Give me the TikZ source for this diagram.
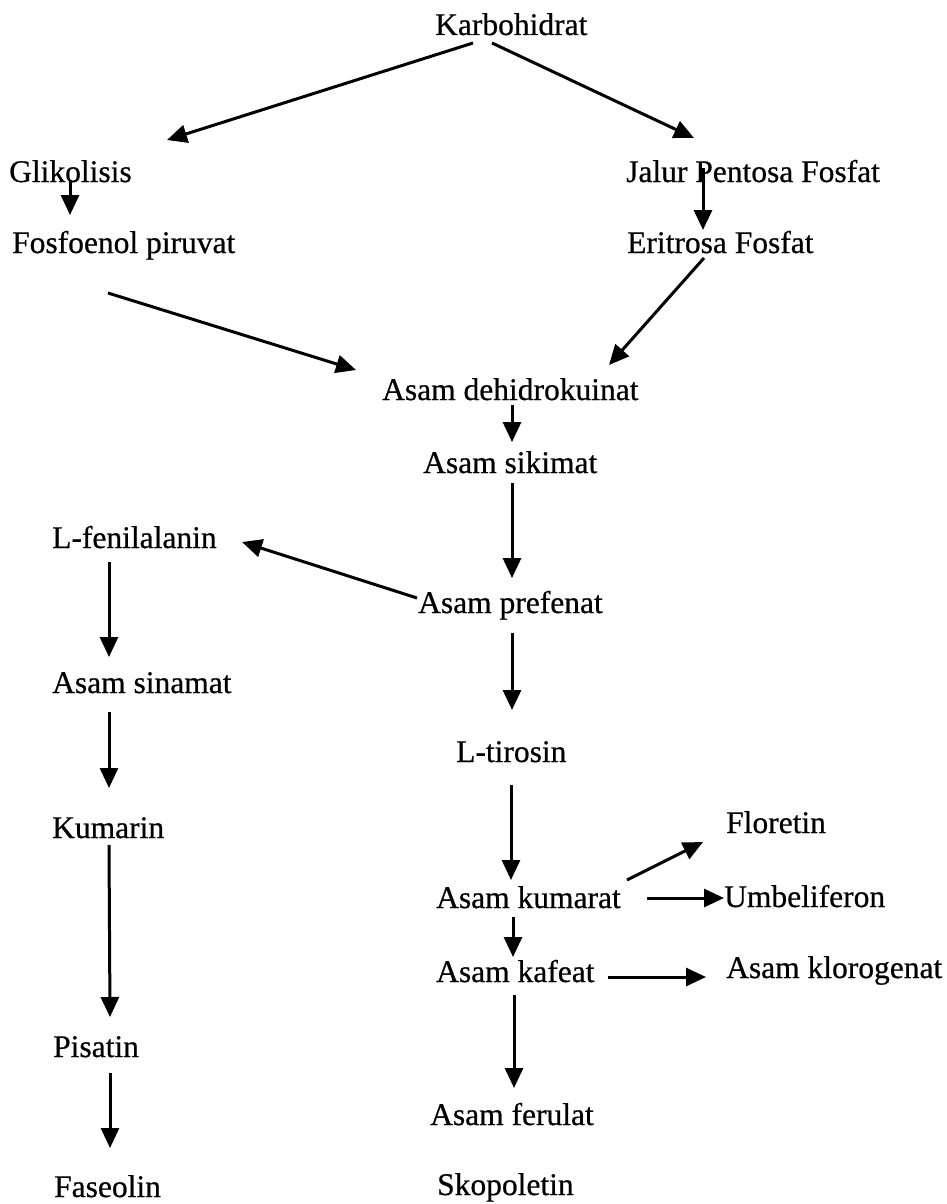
\documentclass[tikz,border=0pt]{standalone}
\usepackage{fontspec}
\setmainfont{Liberation Serif}
\newfontfamily\scanfont{Liberation Serif}[FakeBold=0.6]
\usetikzlibrary{arrows.meta}
\begin{document}
\begin{tikzpicture}[x=1pt,y=-1pt,
  lbl/.style={anchor=base west,inner sep=0pt,font=\scanfont\fontsize{31.5}{38}\selectfont},
  arr/.style={line width=3pt,-{Triangle[length=20pt,width=18pt]}}]
\useasboundingbox (0,0) rectangle (946,1204);
\fill[white] (0,0) rectangle (946,1204);
% nodes
\node[lbl] (karbo) at (435,35) {Karbohidrat};
\node[lbl] (glik) at (9,182) {Glikolisis};
\node[lbl] (fosfo) at (12,253) {Fosfoenol piruvat};
\node[lbl] (jalur) at (626,182) {Jalur Pentosa Fosfat};
\node[lbl] (eri) at (627,253) {Eritrosa Fosfat};
\node[lbl] (dehid) at (382,400) {Asam dehidrokuinat};
\node[lbl] (sik) at (423,473) {Asam sikimat};
\node[lbl] (fenil) at (52,548) {L-fenilalanin};
\node[lbl] (pref) at (418,613) {Asam prefenat};
\node[lbl] (sin) at (52,693) {Asam sinamat};
\node[lbl] (tir) at (456,762) {L-tirosin};
\node[lbl] (kumarin) at (52,838) {Kumarin};
\node[lbl] (flo) at (726,833) {Floretin};
\node[lbl] (kum) at (436,908) {Asam kumarat};
\node[lbl] (umb) at (724,907) {Umbeliferon};
\node[lbl] (kaf) at (436,982) {Asam kafeat};
\node[lbl] (klo) at (726,978) {Asam klorogenat};
\node[lbl] (pis) at (53,1057) {Pisatin};
\node[lbl] (fer) at (430,1125) {Asam ferulat};
\node[lbl] (fas) at (54,1197) {Faseolin};
\node[lbl] (sko) at (437,1195) {Skopoletin};
% connectors
\draw[arr] ([shift={(38,8)}]karbo.base west) -- ([shift={(158,-42)}]glik.base west);
\draw[arr] ([shift={(57,8)}]karbo.base west) -- ([shift={(68,-44)}]jalur.base west);
\draw[arr] ([shift={(61,-2)}]glik.base west) -- ([shift={(58,-38)}]fosfo.base west);
\draw[arr] ([shift={(77,-14)}]jalur.base west) -- ([shift={(76,-23)}]eri.base west);
\draw[arr] ([shift={(96,40)}]fosfo.base west) -- ([shift={(-26,-30)}]dehid.base west);
\draw[arr] ([shift={(77,5)}]eri.base west) -- ([shift={(227,-35)}]dehid.base west);
\draw[arr] ([shift={(130,5)}]dehid.base west) -- ([shift={(89,-31)}]sik.base west);
\draw[arr] ([shift={(89,10)}]sik.base west) -- ([shift={(94,-35)}]pref.base west);
\draw[arr] ([shift={(-1,-15)}]pref.base west) -- ([shift={(190,-6)}]fenil.base west);
\draw[arr] ([shift={(94,20)}]pref.base west) -- ([shift={(56,-52)}]tir.base west);
\draw[arr] ([shift={(55,23)}]tir.base west) -- ([shift={(75,-28)}]kum.base west);
\draw[arr] ([shift={(77,9)}]kum.base west) -- ([shift={(77,-25)}]kaf.base west);
\draw[arr] ([shift={(78,13)}]kaf.base west) -- ([shift={(84,-37)}]fer.base west);
\draw[arr] ([shift={(191,-28)}]kum.base west) -- ([shift={(-23,9)}]flo.base west);
\draw[arr] ([shift={(211,-10)}]kum.base west) -- ([shift={(0,-9)}]umb.base west);
\draw[arr] ([shift={(172,-5)}]kaf.base west) -- ([shift={(-20,-1)}]klo.base west);
\draw[arr] ([shift={(57,14)}]fenil.base west) -- ([shift={(57,-36)}]sin.base west);
\draw[arr] ([shift={(57,19)}]sin.base west) -- ([shift={(57,-50)}]kumarin.base west);
\draw[arr] ([shift={(57,7)}]kumarin.base west) -- ([shift={(57,-40)}]pis.base west);
\draw[arr] ([shift={(57,16)}]pis.base west) -- ([shift={(56,-49)}]fas.base west);
\end{tikzpicture}
\end{document}
